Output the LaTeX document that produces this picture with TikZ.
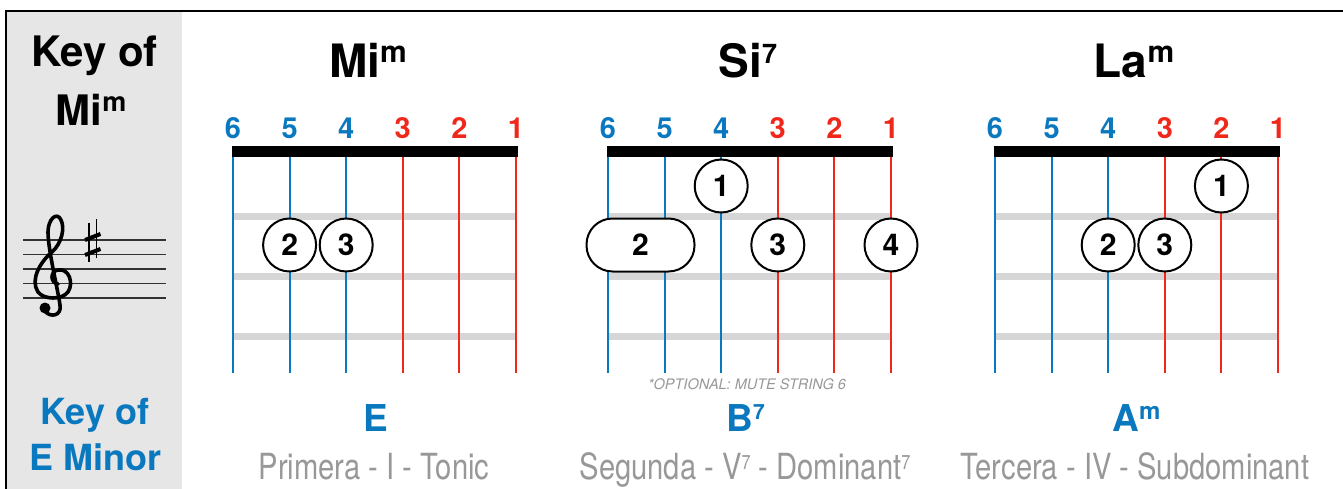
\documentclass[tikz,border=0pt]{standalone}
\usepackage{fontspec}
\setmainfont{TeX Gyre Heros}
\newfontfamily\narrowfont[FakeStretch=0.81]{TeX Gyre Heros}
\definecolor{sblue}{RGB}{10,120,190}
\definecolor{sred}{RGB}{240,40,28}
\definecolor{fretgray}{RGB}{214,214,214}
\definecolor{panelgray}{RGB}{230,230,230}
\definecolor{labelgray}{RGB}{152,152,152}
\definecolor{staffgray}{RGB}{50,50,50}
\newcommand\sups[3]{\raisebox{#2pt}{\fontsize{#1}{#1}\selectfont #3}}
\begin{document}
\begin{tikzpicture}[x=1pt,y=-1pt,
  finger/.style={circle, draw=black, line width=2pt, fill=white, minimum size=53pt, inner sep=0pt, font=\fontsize{30}{30}\selectfont\bfseries},
  pill/.style={rectangle, rounded corners=26pt, draw=black, line width=2pt, fill=white, minimum width=108pt, minimum height=53pt, inner sep=0pt, font=\fontsize{30}{30}\selectfont\bfseries},
  strnum/.style={inner sep=0pt, font=\fontsize{29}{29}\selectfont\bfseries},
  title/.style={inner sep=0pt, anchor=base, font=\fontsize{46}{46}\selectfont\bfseries},
  chordname/.style={inner sep=0pt, anchor=base, text=sblue, font=\fontsize{37}{37}\selectfont\bfseries},
  degree/.style={inner sep=0pt, anchor=base, text=labelgray, font=\narrowfont\fontsize{36}{36}\selectfont},
  keytext/.style={inner sep=0pt, anchor=base, font=\fontsize{42}{42}\selectfont\bfseries},
  keyblue/.style={inner sep=0pt, anchor=base, text=sblue, font=\fontsize{36}{36}\selectfont\bfseries},
  fretbar/.style={fill=fretgray},
  stringline/.style={line width=2pt},
  nut/.style={fill=black},
  staffline/.style={draw=staffgray, line width=1.1pt}
]
\useasboundingbox (0,0) rectangle (1343,489);
% left panel
\fill[panelgray] (6,11) rectangle (182,489);
\draw[line width=2.2pt] (6,489) -- (6,11) -- (1343,11);
\node[keytext] (k1) at (94.5,67) {Key of};
\node[keytext] (k2) at (91,126) {Mi\sups{27}{14}{m}};
\node[keyblue] (k3) at (95,424) {Key of};
\node[keyblue] (k4) at (95.5,470) {E Minor};
% staff
\foreach \yy in {240,254.5,269,283.5,298}
  \draw[staffline] (23,\yy) -- (166,\yy);
% treble clef
\draw[line width=3.6pt, line cap=round, line join=round]
  (58,284) .. controls (50,283) and (50,271) .. (58,270)
  .. controls (69,268) and (74,283) .. (68,292)
  .. controls (62,300) and (44,300) .. (38,292)
  .. controls (30,280) and (40,262) .. (52,252)
  .. controls (62,243) and (65,228) .. (61,220)
  .. controls (57,211) and (48,219) .. (48,232)
  .. controls (48,250) and (58,290) .. (60,305)
  .. controls (62,316) and (50,318) .. (45,311);
\draw[line width=2.2pt] (38,292) .. controls (33,284) and (34,275) .. (40,266);
\fill (45,308) circle (5.5);
% sharp
\draw[line width=1.8pt] (89,223) -- (89,262);
\draw[line width=1.8pt] (96.5,219) -- (96.5,258);
\draw[line width=4pt] (85,240) -- (100.5,234);
\draw[line width=4pt] (85,255) -- (100.5,249);

% ---------- chord 1: Mi m ----------
\begin{scope}[shift={(233,0)}]
  \foreach \fy in {216,276,336} \fill[fretbar] (0,\fy-3.5) rectangle (283,\fy+3.5);
  \foreach \k/\c/\n in {0/sblue/6,1/sblue/5,2/sblue/4,3/sred/3,4/sred/2,5/sred/1}{
    \draw[stringline,\c] (\k*56.6,152) -- (\k*56.6,373);
    \node[strnum,text=\c] (a-num\n) at (\k*56.6,128.5) {\n};
  }
  \fill[nut] (-1.5,146) rectangle (284.5,157);
  \node[finger] (a-f2) at (1*56.6,245) {2};
  \node[finger] (a-f3) at (2*56.6,245) {3};
  \node[title] (a-title) at (135,78) {Mi\sups{30}{15}{m}};
  \node[chordname] (a-name) at (142.5,431) {E};
  \node[degree] (a-deg) at (141,479) {Primera - I - Tonic};
\end{scope}

% ---------- chord 2: Si 7 ----------
\begin{scope}[shift={(608,0)}]
  \foreach \fy in {216,276,336} \fill[fretbar] (0,\fy-3.5) rectangle (283,\fy+3.5);
  \foreach \k/\c/\n in {0/sblue/6,1/sblue/5,2/sblue/4,3/sred/3,4/sred/2,5/sred/1}{
    \draw[stringline,\c] (\k*56.6,152) -- (\k*56.6,373);
    \node[strnum,text=\c] (b-num\n) at (\k*56.6,128.5) {\n};
  }
  \fill[nut] (-1.5,146) rectangle (284.5,157);
  \node[finger] (b-f1) at (2*56.6,186) {1};
  \node[pill] (b-f2) at (32.5,245) {2};
  \node[finger] (b-f3) at (3*56.6,245) {3};
  \node[finger] (b-f4) at (5*56.6,245) {4};
  \node[title] (b-title) at (140,78) {Si\sups{27}{14}{7}};
  \node[inner sep=0pt, anchor=base, text=labelgray, font=\fontsize{14.5}{14.5}\selectfont\itshape] (b-note) at (139,389) {*OPTIONAL: MUTE STRING 6};
  \node[chordname] (b-name) at (137.5,431) {B\sups{21}{11.5}{7}};
  \node[degree] (b-deg) at (137,479) {Segunda - V\sups{20}{10}{7} - Dominant\sups{20}{10}{7}};
\end{scope}

% ---------- chord 3: La m ----------
\begin{scope}[shift={(995,0)}]
  \foreach \fy in {216,276,336} \fill[fretbar] (0,\fy-3.5) rectangle (283,\fy+3.5);
  \foreach \k/\c/\n in {0/sblue/6,1/sblue/5,2/sblue/4,3/sred/3,4/sred/2,5/sred/1}{
    \draw[stringline,\c] (\k*56.6,152) -- (\k*56.6,373);
    \node[strnum,text=\c] (c-num\n) at (\k*56.6,128.5) {\n};
  }
  \fill[nut] (-1.5,146) rectangle (284.5,157);
  \node[finger] (c-f1) at (4*56.6,186) {1};
  \node[finger] (c-f2) at (2*56.6,245) {2};
  \node[finger] (c-f3) at (3*56.6,245) {3};
  \node[title] (c-title) at (139,78) {La\sups{30}{15}{m}};
  \node[chordname] (c-name) at (141.5,431) {A\sups{24}{12}{m}};
  \node[degree] (c-deg) at (140,479) {Tercera - IV - Subdominant};
\end{scope}
\end{tikzpicture}
\end{document}
